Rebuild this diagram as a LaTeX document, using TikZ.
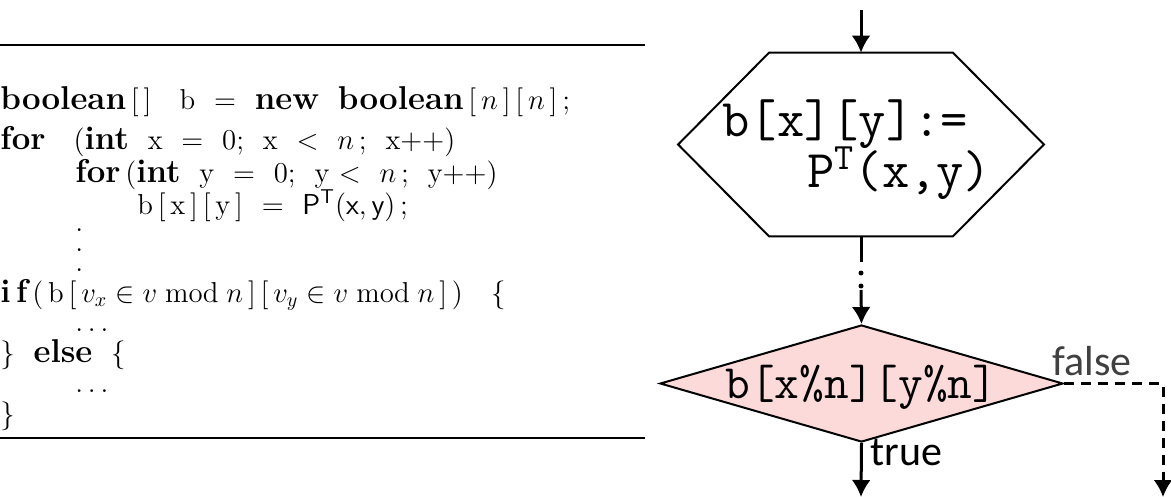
\documentclass[tikz,border=0pt]{standalone}
\usepackage{fontspec}
\newfontfamily\labelfont{Carlito}
\newcommand{\kw}[1]{{\bfseries\fontsize{16.5}{17}\selectfont #1}}
\usetikzlibrary{arrows.meta,shapes.geometric}
\definecolor{testpink}{HTML}{FDDADA}
\begin{document}
\begin{tikzpicture}[x=0.5pt, y=-0.5pt,
		codeline/.style={anchor=base west, inner sep=0pt, font=\fontsize{14.4}{17}\selectfont},
		boxtext/.style={anchor=base west, inner sep=0pt, font=\ttfamily\fontsize{26.5}{26.5}\selectfont},
		flowline/.style={line width=1.5pt, -{Latex[length=8.5pt,width=9.5pt]}},
		hexbox/.style={rectangle, minimum width=182.5pt, minimum height=91.5pt, inner sep=0pt},
		testbox/.style={diamond, draw, line width=1pt, fill=testpink, minimum width=201.5pt, minimum height=58.5pt, inner sep=0pt},
		branch/.style={anchor=base west, inner sep=0pt, font=\labelfont\fontsize{21}{21}\selectfont}]
	\useasboundingbox (0,0) rectangle (1171,497);
	\draw[line width=1pt] (0,45) -- (645,45);
	\draw[line width=1pt] (0,438) -- (645,438);
	\node[codeline] (decl) at (0,110) {\kw{boolean}\,[\,]\ \ \ b\ \ =\ \ \kw{new}\ \ \kw{boolean}\,[\,$n$\,]\,[\,$n$\,]\,;};
	\node[codeline] (outer) at (0,150) {\kw{for}\ \ \ (\kw{int}\ \ x\ \ =\ \ 0;\ \ x\ \ $<$\ \ $n$\,;\ \ x++)};
	\node[codeline] (inner) at (75,183) {\kw{for}\,(\kw{int}\ \ y\ \ =\ \ 0;\ \ y\ $<$\ \ $n$\,;\ \ y++)};
	\node[codeline] (body) at (137,214) {b\,[\,x\,]\,[\,y\,]\ \ =\ \ $\mathsf{P}^{\mathsf{T}}(\mathsf{x},\mathsf{y})$\,;};
	\node[codeline, align=left, font=\fontsize{14.4}{10}\selectfont, anchor=south west] (skip) at (75,272) {.\\.\\.};
	\node[codeline] (cond) at (0,302) {\kw{i\,f}\,(\,b\,[\,$v_x\in v \bmod n$\,]\,[\,$v_y\in v \bmod n$\,]\,)\ \ \ \{};
	\node[codeline] (thenpart) at (75,331) {$\ldots$};
	\node[codeline] (elsepart) at (0,362) {\}\ \ \kw{else}\ \ \{};
	\node[codeline] (elsebody) at (75,392) {$\ldots$};
	\node[codeline] (close) at (0,423) {\}};
	\node[hexbox] (assign) at (861,144.5) {};
	\draw[line width=1pt] (assign.west) -- ([xshift=45.5pt]assign.north west) -- ([xshift=-45.5pt]assign.north east) -- (assign.east) -- ([xshift=-45.5pt]assign.south east) -- ([xshift=45.5pt]assign.south west) -- cycle;
	\node[boxtext] (assignlhs) at (722,137) {b[x][y]:=};
	\node[boxtext] (assignrhs) at (807,188) {P\textsuperscript{T}(x,y)};
	\node[testbox] (test) at (861.5,383.5) {};
	\node[boxtext, font=\ttfamily\fontsize{24}{24}\selectfont] (testtxt) at (725,398) {b[x\%n][y\%n]};
	\coordinate (entry) at (861,10);
	\coordinate (gapa) at (861,262);
	\coordinate (gapb) at (861,290);
	\coordinate (trueend) at (861,497);
	\coordinate (falseend) at (1163,497);
	\draw[flowline] (entry) -- (assign.north);
	\draw[line width=1.5pt] (assign.south) -- (gapa);
	\foreach \d in {273,286}
		\fill (861,\d) circle (1.25pt);
	\draw[flowline] (gapb) -- (test.north);
	\draw[flowline] (test.south) -- (trueend);
	\draw[flowline, dash pattern=on 5pt off 3.5pt] (test.east) -| (falseend);
	\node[branch] (truelbl) at (870,465) {true};
	\node[branch, text=black!75] (falselbl) at (1052,375) {false};
\end{tikzpicture}
\end{document}
